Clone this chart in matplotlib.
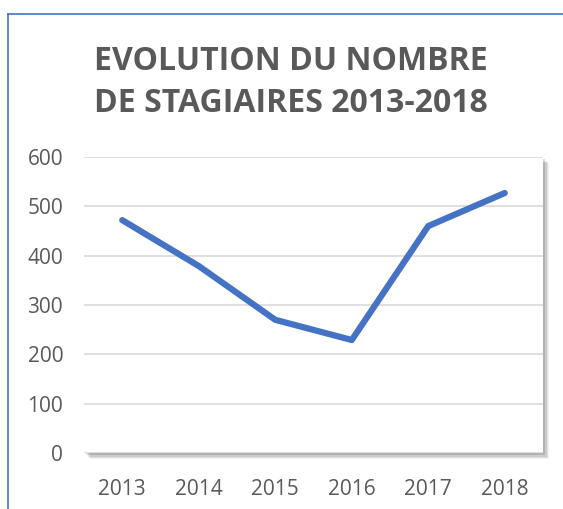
import matplotlib.pyplot as plt
from matplotlib.patches import Rectangle
from matplotlib.lines import Line2D

annees = ["2013", "2014", "2015", "2016", "2017", "2018"]
stagiaires = [472, 379, 270, 229, 460, 527]
graduations = [0, 100, 200, 300, 400, 500, 600]

W, H = 563, 509
fig = plt.figure(figsize=(W / 100, H / 100), dpi=100)
plt.rcParams['font.family'] = ['Open Sans', 'DejaVu Sans']

# zone de tracé (pixels de l'image de référence)
gauche, droite, haut, bas = 84, 543, 157, 453
ax = fig.add_axes([gauche / W, 1 - bas / H, (droite - gauche) / W, (bas - haut) / H])

# ombre du cadre
for i, a in enumerate([0.05, 0.07, 0.09, 0.12]):
    d = 6 - i * 1.2
    fig.patches.append(Rectangle(((gauche + d) / W, 1 - (bas + d) / H),
                                 (droite - gauche) / W, (bas - haut) / H,
                                 transform=fig.transFigure, facecolor='black',
                                 alpha=a, edgecolor='none', zorder=0))
ax.set_zorder(1)
ax.set_facecolor('white')

x = list(range(len(annees)))
ax.plot(x, stagiaires, color='#4472C4', lw=4.5, solid_capstyle='round',
        solid_joinstyle='round', zorder=3)

ax.set_xlim(-0.5, len(annees) - 0.5)
ax.set_ylim(0, 600)
ax.set_yticks(graduations)
ax.set_xticks(x)
ax.set_xticklabels(annees)
ax.grid(axis='y', color='#D9D9D9', lw=1.2)
ax.set_axisbelow(True)
for s in ax.spines.values():
    s.set_visible(False)
ax.tick_params(length=0, labelsize=15, colors='#595959')
ax.tick_params(axis='y', pad=15)
ax.tick_params(axis='x', pad=19)

fig.text(291 / W, 1 - 62 / H, "EVOLUTION DU NOMBRE", ha='center', va='center',
         fontsize=23, fontweight='bold', color='#595959')
fig.text(291 / W, 1 - 103 / H, "DE STAGIAIRES 2013-2018", ha='center', va='center',
         fontsize=23, fontweight='bold', color='#595959')

# bordure bleue
fig.add_artist(Line2D([8 / W, 8 / W], [0, 1 - 14 / H], color='#4472C4', lw=1.2))
fig.add_artist(Line2D([8 / W, 1], [1 - 14 / H, 1 - 14 / H], color='#4472C4', lw=1.2))

fig.savefig("out.png", dpi=100)
